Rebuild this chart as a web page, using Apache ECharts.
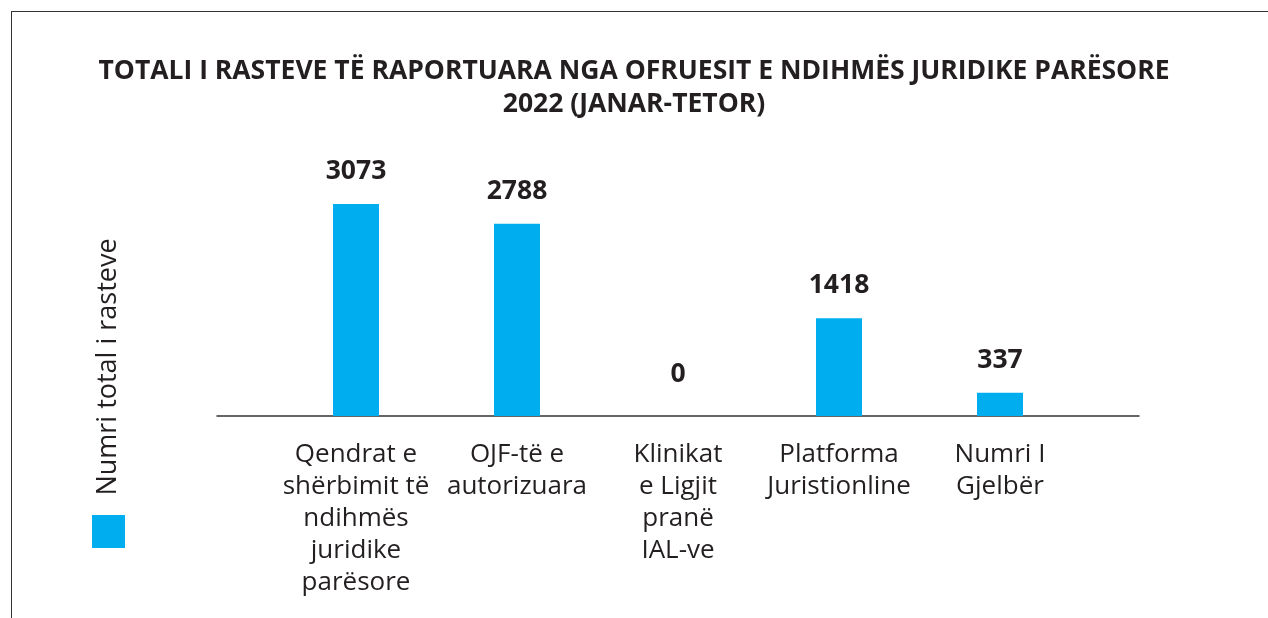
<!DOCTYPE html>
<html>
<head>
<meta charset="utf-8">
<script src="https://cdn.jsdelivr.net/npm/echarts@6/dist/echarts.min.js"></script>
<style>
  html, body { margin: 0; padding: 0; background: #fff; }
  #chart { position: absolute; left: 0; top: 0; width: 1268px; height: 618px; }
  .frame { position: absolute; left: 11px; top: 11px; right: -5px; bottom: -5px;
    border-left: 1.5px solid #333; border-top: 1.5px solid #333; pointer-events: none; }
</style>
</head>
<body>
<div id="chart"></div>
<div class="frame"></div>
<script>
const TITLE = 'TOTALI I RASTEVE TË RAPORTUARA NGA OFRUESIT E NDIHMËS JURIDIKE PARËSORE\n2022 (JANAR-TETOR)'
const SERIES_NAME = 'Numri total i rasteve'
const categories = [
  'Qendrat e\nshërbimit të\nndihmës\njuridike\nparësore',
  'OJF-të e\nautorizuara',
  'Klinikat\ne Ligjit\npranë\nIAL-ve',
  'Platforma\nJuristionline',
  'Numri I\nGjelbër'
]
const values = [3073, 2788, 0, 1418, 337]

const FONT = '"Open Sans", "Noto Sans", sans-serif'
const TEXT = '#231f20'
const BLUE = '#00aeef'

// the zero label sits a bit higher in the original
const barData = values.map(v => (v === 0 ? { value: v, label: { distance: 28 } } : v))

const chart = echarts.init(document.getElementById('chart'))
chart.setOption({
  animation: false,
  textStyle: { fontFamily: FONT },
  title: {
    text: TITLE,
    left: 'center',
    top: 50,
    textStyle: { fontSize: 26.5, fontWeight: 'bold', color: TEXT, lineHeight: 33, fontFamily: FONT }
  },
  legend: {
    data: [SERIES_NAME],
    left: 87,
    top: 510,
    icon: 'rect',
    itemWidth: 33,
    itemHeight: 33,
    formatter: () => '',
    selectedMode: false
  },
  graphic: [{
    type: 'text',
    x: 108,
    y: 367,
    rotation: Math.PI / 2,
    style: {
      text: SERIES_NAME,
      font: '27px ' + FONT,
      fill: TEXT,
      textAlign: 'center',
      textVerticalAlign: 'middle'
    }
  }],
  grid: [
    { left: 275.5, right: 187.5, top: 174.5, bottom: 202 },
    { left: 217, right: 129, top: 174.5, bottom: 202 }
  ],
  xAxis: [{
    type: 'category',
    gridIndex: 0,
    data: categories,
    axisLine: { show: false },
    axisTick: { show: false },
    axisLabel: { color: TEXT, fontSize: 26, lineHeight: 32, margin: 23, interval: 0, fontFamily: FONT }
  }, {
    type: 'category',
    gridIndex: 1,
    data: [''],
    axisLine: { lineStyle: { color: '#333', width: 1.5 } },
    axisTick: { show: false },
    axisLabel: { show: false }
  }],
  yAxis: [{
    type: 'value',
    gridIndex: 0,
    min: 0,
    max: 3500,
    show: false
  }, {
    type: 'value',
    gridIndex: 1,
    show: false
  }],
  series: [{
    name: SERIES_NAME,
    type: 'bar',
    xAxisIndex: 0,
    yAxisIndex: 0,
    data: barData,
    barWidth: 46,
    itemStyle: { color: BLUE },
    label: {
      show: true,
      position: 'top',
      distance: 19,
      color: TEXT,
      fontSize: 26.5,
      fontWeight: 'bold',
      fontFamily: FONT
    }
  }]
})
</script>
</body>
</html>
